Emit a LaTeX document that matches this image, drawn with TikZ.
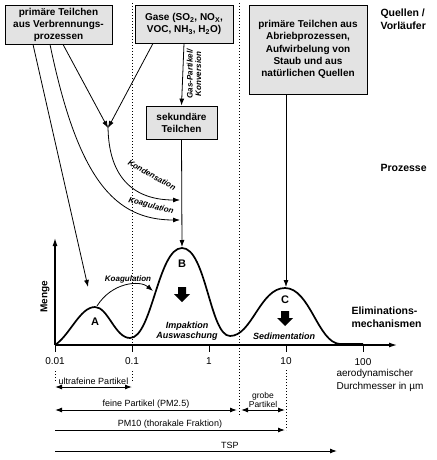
\documentclass[tikz,border=0pt]{standalone}
\usepackage{fontspec}
\setmainfont{Liberation Sans}
\usetikzlibrary{arrows.meta}
\tikzset{
  box/.style={draw, fill=gray!22, line width=0.8pt, align=center, inner sep=1pt,
    font=\bfseries\fontsize{10}{12}\selectfont},
  flow/.style={line width=0.8pt, -{Latex[length=7pt,width=5pt]}},
  span/.style={line width=1pt, {Latex[length=7pt,width=5pt]}-{Latex[length=7pt,width=5pt]}},
  grid/.style={line width=0.8pt, dash pattern=on 1pt off 2pt},
  proc/.style={font=\bfseries\itshape\fontsize{8}{8.5}\selectfont, inner sep=1pt},
  side/.style={font=\bfseries\fontsize{10.5}{12.5}\selectfont, align=left, anchor=west},
  peak/.style={font=\bfseries\fontsize{11}{12}\selectfont},
  tick/.style={font=\fontsize{10}{12}\selectfont},
  spanlabel/.style={font=\fontsize{9}{10}\selectfont, above, inner sep=1.5pt, align=center},
}
\newcommand{\elimarrow}[1]{\fill #1 +(-4,0) -- +(4,0) -- +(4,7) -- +(8,7) -- +(0,15)
  -- +(-8,7) -- +(-4,7) -- cycle;}
\begin{document}
\begin{tikzpicture}[x=1pt,y=-1pt]
  \useasboundingbox (0,0) rectangle (436,460);
  % sources
  \node[box, minimum width=107, minimum height=39] (verbr) at (58.5,24.5)
    {primäre Teilchen\\aus Verbrennungs-\\prozessen};
  \node[box, minimum width=98, minimum height=38] (gase) at (184,24)
    {Gase (SO\textsubscript{2}, NO\textsubscript{X},\\VOC, NH\textsubscript{3}, H\textsubscript{2}O)};
  \node[box, minimum width=71, minimum height=33] (sek) at (181.5,122.5)
    {sekundäre\\Teilchen};
  \node[box, minimum width=118, minimum height=89, font=\bfseries\fontsize{10}{12.3}\selectfont]
    (abrieb) at (308,49.5)
    {primäre Teilchen aus\\Abriebprozessen,\\Aufwirbelung von\\Staub und aus\\natürlichen Quellen};
  \node[side] (quellen) at (377,19) {Quellen /\\Vorläufer};
  \node[side] (prozesse) at (377,168) {Prozesse};
  \node[side] (elim) at (348,317) {Eliminations-\\mechanismen};

  % size boundaries
  \draw[grid] (132,3) -- (132,345) (132,371) -- (132,382);
  \draw[grid] (55,371) -- (55,382);
  \draw[grid] (239,3) -- (239,415);
  \draw[grid] (286,370) -- (286,430);

  % axes
  \draw[line width=1.2pt, -{Latex[length=8pt,width=5pt]}] (55,345) -- (397,345);
  \draw[line width=1.2pt, -{Latex[length=8pt,width=5pt]}] (55,345) -- (55,238);
  \node[rotate=90, font=\bfseries\fontsize{10}{12}\selectfont] (menge) at (45,297) {Menge};
  \foreach \x in {55,132,209,286,363}
    \draw[line width=1pt] (\x,345) -- (\x,352);
  \draw
    (55,361) node[tick] (t0){0.01}
    (132,361) node[tick] (t1){0.1}
    (209,361) node[tick] (t2){1}
    (286,361) node[tick] (t3){10}
    (363,362) node[tick] (t4){100};
  \node[tick, anchor=west, align=left, font=\fontsize{10}{13}\selectfont] (achse) at (333,380)
    {aerodynamischer\\Durchmesser in µm};

  % size distribution
  \draw[line width=1.7pt] (55,345) .. controls (70,335) and (80,307) .. (95,307)
    .. controls (108,307) and (115,338) .. (130,338)
    .. controls (152,338) and (158,248) .. (182,248)
    .. controls (206,248) and (210,336) .. (230,336)
    .. controls (252,336) and (260,288) .. (285,288)
    .. controls (310,288) and (318,343) .. (340,344) -- (363,344);
  \node[peak] (A) at (95,322) {A};
  \node[peak] (B) at (182,264) {B};
  \node[peak] (C) at (285,300) {C};
  \elimarrow{(182,287)}
  \elimarrow{(285,311)}
  \node[font=\bfseries\itshape\fontsize{9}{10}\selectfont, align=center] (impakt) at (187,331)
    {Impaktion\\Auswaschung};
  \node[font=\bfseries\itshape\fontsize{9}{10}\selectfont] (sedi) at (284,336) {Sedimentation};

  % processes
  \coordinate (peakA) at (88,287);
  \coordinate (peakB) at (182,247);
  \coordinate (peakC) at (286,287);
  \coordinate (merge) at (108,128);
  \coordinate (kond) at (180,200);
  \coordinate (koag) at (180,220);
  \coordinate (kA) at (97,306);
  \coordinate (kB) at (153,291);
  \begin{scope}[flow]
    \draw ([xshift=-25.5]verbr.south) -- (peakA);
    \draw ([xshift=4.5]verbr.south) -- (merge);
    \draw ([xshift=-31]gase.south) -- (merge);
    \draw (gase.south) -- (sek.north);
    \draw (sek.south) -- (peakB);
    \draw ([xshift=-22]abrieb.south) -- (peakC);
    \draw ([yshift=3]merge) .. controls (108,182) and (138,200) .. (kond);
    \draw ([xshift=-8.5]verbr.south) .. controls (78,180) and (115,220) .. (koag);
    \draw (kA) .. controls (112,282) and (140,280) .. (kB);
  \end{scope}
  \node[proc, rotate=90, align=center] (konv) at (194,74) {Gas-Partikel/\\Konversion};
  \node[proc, rotate=-29] (kondlabel) at (152,175) {Kondensation};
  \node[proc, rotate=-15] (koaglabel) at (151,206) {Koagulation};
  \node[proc] (koagAB) at (128,279) {Koagulation};

  % size classes
  \coordinate (uf-l) at (55,387);   \coordinate (uf-r) at (132,387);
  \coordinate (fein-l) at (55,410); \coordinate (fein-r) at (237,410);
  \coordinate (grob-l) at (241,410); \coordinate (grob-r) at (285,410);
  \coordinate (pm-l) at (55,430);   \coordinate (pm-r) at (285,430);
  \coordinate (tsp-l) at (55,451);  \coordinate (tsp-r) at (337,451);
  \draw[span] (uf-l) -- node[spanlabel] {ultrafeine Partikel} (uf-r);
  \draw[span] (fein-l) -- node[spanlabel] {feine Partikel (PM2.5)} (fein-r);
  \draw[span] (grob-l) -- node[spanlabel, font=\fontsize{8.5}{9}\selectfont] {grobe\\Partikel} (grob-r);
  \draw[line width=1pt, -{Latex[length=7pt,width=5pt]}] (pm-l) -- node[spanlabel] {PM10 (thorakale Fraktion)} (pm-r);
  \draw[line width=1pt, -{Latex[length=7pt,width=5pt]}] (tsp-l) -- node[spanlabel, pos=0.62] {TSP} (tsp-r);
\end{tikzpicture}
\end{document}
